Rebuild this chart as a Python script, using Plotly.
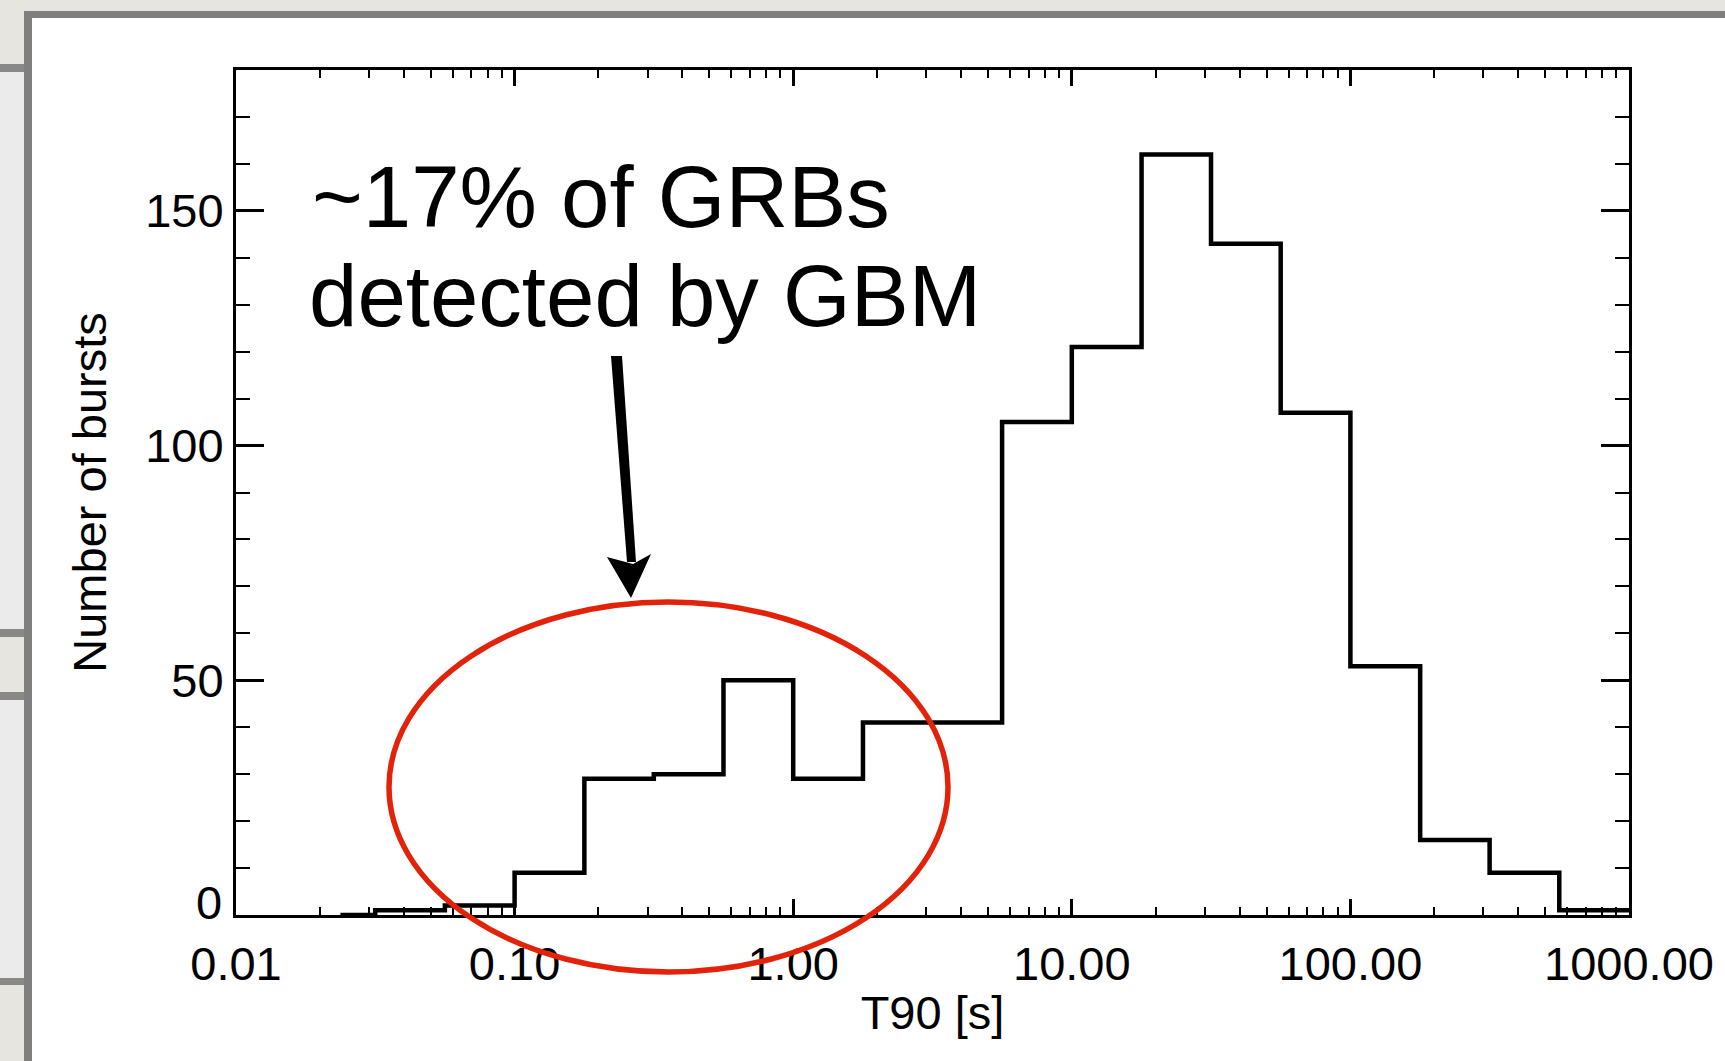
import plotly.graph_objects as go

# ---------------- data ----------------
bin_edges = [0.0237, 0.0316, 0.0562, 0.1, 0.178, 0.316, 0.562, 1.0, 1.78, 3.16,
             5.62, 10.0, 17.8, 31.6, 56.2, 100.0, 178.0, 316.0, 562.0, 1000.0]
counts = [0, 1, 2, 9, 29, 30, 50, 29, 41, 41, 105, 121, 162, 143, 107, 53, 16, 9, 1]

x_tickvals = [0.01, 0.1, 1, 10, 100, 1000]
x_ticktext = ["0.01", "0.10", "1.00", "10.00", "100.00", "1000.00"]
y_tickvals = [0, 50, 100, 150]
y_ticktext = ["0", "50", "100", "150"]
y_minor = [10, 20, 30, 40, 60, 70, 80, 90, 110, 120, 130, 140, 160, 170]
x_minor = [m * 10.0 ** e for e in range(-2, 3) for m in range(2, 10)]

note_line1 = "~17% of GRBs"
note_line2 = "detected by GBM"

# ---------------- layout geometry (pixels) ----------------
W, H = 1725, 1061
L, R, T, B = 236, 96, 70, 146
PW, PH = W - L - R, H - T - B


def px(x):
    return (x - L) / PW


def py(y):
    return (H - B - y) / PH


FONT = "Liberation Sans, Arial, Helvetica, sans-serif"
FS = 47

fig = go.Figure()
fig.add_trace(go.Scatter(
    x=bin_edges, y=counts + [counts[-1]],
    mode="lines", line=dict(color="black", width=4.5, shape="hv"),
    hoverinfo="skip", showlegend=False, cliponaxis=False,
))

shapes = []


def rect(x0, y0, x1, y1, color):
    shapes.append(dict(type="rect", xref="paper", yref="paper",
                       x0=px(x0), x1=px(x1), y0=py(y1), y1=py(y0),
                       fillcolor=color, line=dict(width=0), layer="below"))


MARBLE = "#e6e5e0"
BAR = "#888888"
LIGHT = "#ebebeb"
rect(0, 0, W, 11, MARBLE)
rect(0, 0, 24, 64, MARBLE)
rect(0, 64, 24, 72, BAR)
rect(0, 72, 24, 629, LIGHT)
rect(0, 629, 24, 637, BAR)
rect(0, 637, 24, 692, MARBLE)
rect(0, 692, 24, 700, BAR)
rect(0, 700, 24, 978, LIGHT)
rect(0, 978, 24, 985, BAR)
rect(0, 985, 24, H, MARBLE)
rect(24, 11, W, 18, "#7f7f7f")
rect(24, 11, 32, H, "#7f7f7f")

# red ellipse
shapes.append(dict(type="circle", xref="paper", yref="paper",
                   x0=px(389), x1=px(948), y0=py(972), y1=py(602),
                   line=dict(color="rgb(226,35,10)", width=5.5), layer="above"))


def path(points):
    return "M " + " L ".join(f"{px(a):.5f},{py(b):.5f}" for a, b in points) + " Z"


# arrow shaft + head
shapes.append(dict(type="path", xref="paper", yref="paper",
                   path=path([(611, 356), (622, 356), (636, 562), (627, 562)]),
                   fillcolor="black", line=dict(width=0), layer="above"))
shapes.append(dict(type="path", xref="paper", yref="paper",
                   path=path([(607, 557), (633, 564), (651, 554), (631, 598)]),
                   fillcolor="black", line=dict(width=0), layer="above"))

annotations = [
    dict(text=note_line1, xref="paper", yref="paper", x=px(310), y=py(247),
         xanchor="left", yanchor="bottom", showarrow=False,
         font=dict(family=FONT, size=87, color="black")),
    dict(text=note_line2, xref="paper", yref="paper", x=px(307), y=py(346),
         xanchor="left", yanchor="bottom", showarrow=False,
         font=dict(family=FONT, size=87, color="black")),
    # the "0" label of the y axis sits slightly raised above the x-axis labels
    dict(text=y_ticktext[0], xref="paper", yref="paper", x=px(224), y=py(902),
         xanchor="right", yanchor="middle", showarrow=False,
         font=dict(family=FONT, size=FS, color="black")),
]

axis_common = dict(
    showgrid=False, zeroline=False, showline=True, linecolor="black",
    linewidth=3, ticks="inside", mirror="ticks", tickcolor="black",
    tickfont=dict(family=FONT, size=FS, color="black"),
)

fig.update_layout(
    width=W, height=H,
    margin=dict(l=L, r=R, t=T, b=B, pad=0),
    paper_bgcolor="white", plot_bgcolor="white",
    showlegend=False,
    shapes=shapes, annotations=annotations,
    xaxis=dict(
        type="log", range=[-2, 3], tickmode="array",
        tickvals=x_tickvals, ticktext=x_ticktext,
        ticklen=16, tickwidth=3, ticklabelstandoff=6,
        minor=dict(tickmode="array", tickvals=x_minor, ticks="inside",
                   ticklen=8, tickwidth=2, tickcolor="black", showgrid=False),
        title=dict(text="T90 [s]", font=dict(family=FONT, size=FS, color="black"),
                   standoff=7),
        **axis_common,
    ),
    yaxis=dict(
        range=[0, 180], tickmode="array",
        tickvals=y_tickvals, ticktext=[""] + y_ticktext[1:],
        ticklen=28, tickwidth=3,
        minor=dict(tickmode="array", tickvals=y_minor, ticks="inside",
                   ticklen=14, tickwidth=2, tickcolor="black", showgrid=False),
        title=dict(text="Number of bursts", font=dict(family=FONT, size=FS, color="black"),
                   standoff=24),
        **axis_common,
    ),
)

fig.write_html("out.html", config={"displayModeBar": False},
               post_script="document.body.style.margin='0';document.body.style.overflow='hidden';")
